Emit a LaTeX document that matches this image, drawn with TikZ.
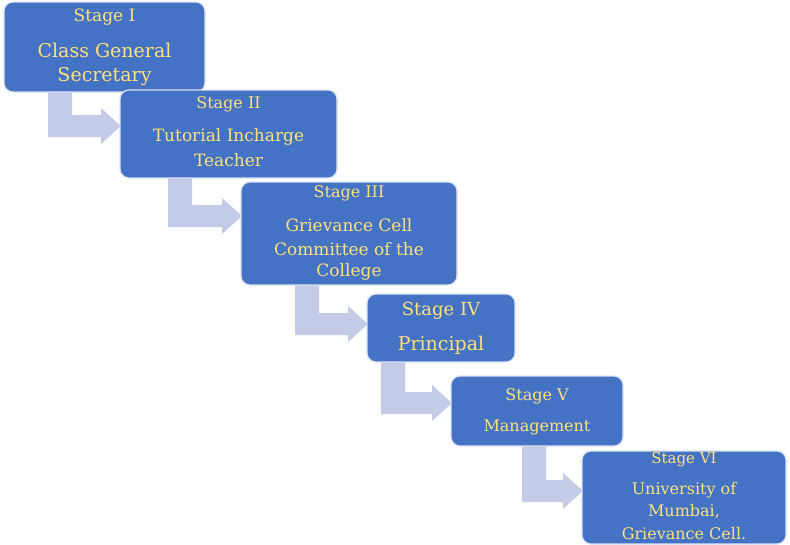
\documentclass[tikz,border=0pt]{standalone}
\usepackage{fontspec}
\setmainfont{DejaVu Serif}
\definecolor{boxblue}{HTML}{4472C4}
\definecolor{edgeblue}{HTML}{DCE3F2}
\definecolor{arr}{HTML}{C3CBE6}
\definecolor{txt}{HTML}{FFE27A}
\begin{document}
\begin{tikzpicture}[x=1pt,y=-1pt,
  stagebox/.style={draw=edgeblue,line width=1.2pt,fill=boxblue,rounded corners=9pt},
  lbl/.style={text=txt,inner sep=0pt,anchor=center},
  arrowshape/.style={fill=arr,draw=none}]
\useasboundingbox (0,0) rectangle (790,544);
% arrows
\newcommand{\bentarrow}[5]{% a top band tip unused
  \fill[arr] (#1,#2) -- (#1+24,#2) -- (#1+24,#3) -- (#4-20,#3) -- (#4-20,#3-7) -- (#4,#3+11) -- (#4-20,#3+29) -- (#4-20,#3+22) -- (#1,#3+22) -- cycle;}
\bentarrow{48}{90}{115}{121}{}
\bentarrow{168}{176}{205}{242}{}
\bentarrow{295}{283}{313}{368}{}
\bentarrow{381}{360}{392}{452}{}
\bentarrow{522}{444}{480}{583}{}
% boxes
\draw[stagebox] (4,2) rectangle (205,92);
\draw[stagebox] (120,90) rectangle (337,178);
\draw[stagebox] (241,182) rectangle (457,285);
\draw[stagebox] (367,294) rectangle (515,362);
\draw[stagebox] (451,376) rectangle (623,446);
\draw[stagebox] (582,451) rectangle (786,544);
% texts
\node[lbl,font=\fontsize{17}{20}\selectfont] (s1) at (104.5,17) {Stage I};
\node[lbl,font=\fontsize{19}{22}\selectfont] (s1a) at (104.5,50) {Class General};
\node[lbl,font=\fontsize{19}{22}\selectfont] (s1b) at (104.5,77) {Secretary};
\node[lbl,font=\fontsize{16}{20}\selectfont] (s2) at (228.5,104) {Stage II};
\node[lbl,font=\fontsize{17}{20}\selectfont] (s2a) at (228.5,137) {Tutorial Incharge};
\node[lbl,font=\fontsize{17}{20}\selectfont] (s2b) at (228.5,160) {Teacher};
\node[lbl,font=\fontsize{16}{20}\selectfont] (s3) at (349,193) {Stage III};
\node[lbl,font=\fontsize{17}{20}\selectfont] (s3a) at (349,225) {Grievance Cell};
\node[lbl,font=\fontsize{17}{20}\selectfont] (s3b) at (349,249) {Committee of the};
\node[lbl,font=\fontsize{17}{20}\selectfont] (s3c) at (349,272) {College};
\node[lbl,font=\fontsize{18}{22}\selectfont] (s4) at (441,311) {Stage IV};
\node[lbl,font=\fontsize{19}{22}\selectfont] (s4a) at (441,345) {Principal};
\node[lbl,font=\fontsize{16}{20}\selectfont] (s5) at (537,396) {Stage V};
\node[lbl,font=\fontsize{16}{20}\selectfont] (s5a) at (537,427) {Management};
\node[lbl,font=\fontsize{15}{18}\selectfont] (s6) at (684,460) {Stage VI};
\node[lbl,font=\fontsize{16}{19}\selectfont] (s6a) at (684,490) {University of};
\node[lbl,font=\fontsize{16}{19}\selectfont] (s6b) at (684,512) {Mumbai,};
\node[lbl,font=\fontsize{16}{19}\selectfont] (s6c) at (684,534) {Grievance Cell.};
\end{tikzpicture}
\end{document}
